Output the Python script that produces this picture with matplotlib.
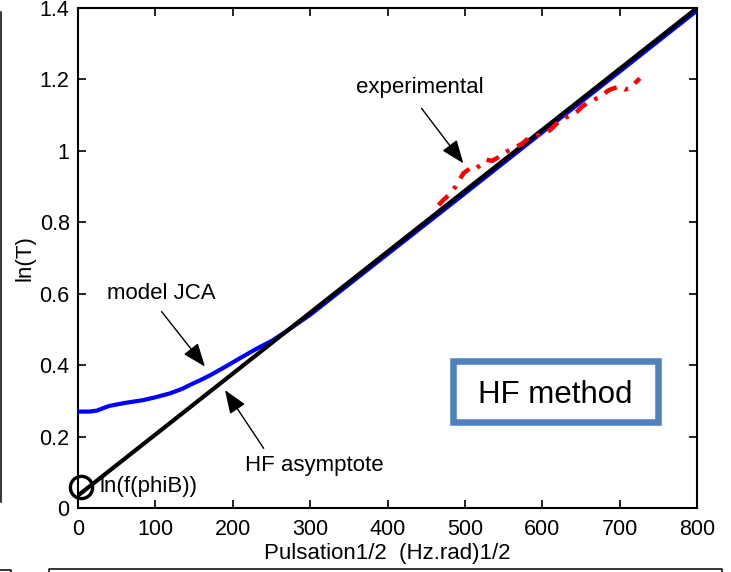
import matplotlib
matplotlib.use("Agg")
import matplotlib.pyplot as plt
from matplotlib.lines import Line2D
from matplotlib.patches import Rectangle

plt.rcParams['font.family'] = ['Liberation Sans', 'DejaVu Sans']

# HF asymptote (straight line)
asym_x = [0, 800]
asym_y = [0.035, 1.400]

# model JCA
jca_x = [0, 15, 25, 33, 41, 60, 84, 100, 119, 135, 149, 160, 171, 190, 209, 230, 252, 270,
         300, 400, 500, 600, 700, 800]
jca_y = [0.270, 0.270, 0.273, 0.280, 0.286, 0.294, 0.302, 0.310, 0.321, 0.334, 0.349,
         0.360, 0.372, 0.395, 0.419, 0.445, 0.470, 0.496, 0.541, 0.711, 0.881, 1.052,
         1.222, 1.393]

# experimental
exp_x = [466, 472, 479, 488, 498, 503, 509, 515, 520, 528, 535, 541, 548, 554, 560, 567,
         574, 582, 590, 596, 602, 610, 619, 626, 632, 639, 645, 652, 658, 665, 671, 675,
         680, 686, 692, 697, 701, 707, 714, 720, 726]
exp_y = [0.848, 0.862, 0.876, 0.900, 0.937, 0.945, 0.956, 0.952, 0.960, 0.975, 0.972,
         0.979, 0.990, 0.998, 1.005, 1.012, 1.020, 1.035, 1.040, 1.045, 1.049, 1.058,
         1.077, 1.090, 1.095, 1.100, 1.110, 1.125, 1.133, 1.140, 1.148, 1.152, 1.160,
         1.170, 1.175, 1.178, 1.180, 1.172, 1.175, 1.190, 1.203]

phiB_x = [3.5]
phiB_y = [0.058]

xticks = [0, 100, 200, 300, 400, 500, 600, 700, 800]
yticks = [0, 0.2, 0.4, 0.6, 0.8, 1.0, 1.2, 1.4]
ytick_labels = ['0', '0.2', '0.4', '0.6', '0.8', '1', '1.2', '1.4']

W, H = 731, 572
fig = plt.figure(figsize=(W / 100, H / 100), dpi=100)
ax = fig.add_axes([78 / W, (H - 508) / H, 619 / W, 500 / H])

ax.plot(jca_x, jca_y, color='#0000ff', lw=3.0, solid_capstyle='butt', zorder=3)
ax.plot(asym_x, asym_y, color='black', lw=3.0, zorder=4)
ax.plot(exp_x, exp_y, color='#ff0000', lw=3.2, linestyle=(0, (3, 2, 0.8, 2)), zorder=5)
ax.plot(phiB_x, phiB_y, marker='o', ms=16, mfc='none', mec='black', mew=2.4,
        linestyle='none', zorder=6, clip_on=False)

ax.set_xlim(0, 800)
ax.set_ylim(0, 1.4)
ax.set_xticks(xticks)
ax.set_yticks(yticks)
ax.set_yticklabels(ytick_labels)
ax.tick_params(direction='in', length=6, width=1.2, labelsize=15.5,
               top=True, right=True, pad=6)
ax.tick_params(axis='x', pad=8)
for s in ax.spines.values():
    s.set_linewidth(1.5)

ax.set_xlabel('Pulsation1/2  (Hz.rad)1/2', fontsize=16, labelpad=2)
ax.set_ylabel('ln(T)', fontsize=16, labelpad=3)

aprops = dict(arrowstyle='-|>,head_length=0.9,head_width=0.35', color='black',
              lw=1.0, mutation_scale=16, shrinkA=0, shrinkB=0)
ax.annotate('', xy=(498, 0.965), xytext=(444, 1.119), arrowprops=aprops)
ax.text(442, 1.176, 'experimental', fontsize=16, ha='center', va='center')
ax.annotate('', xy=(164, 0.396), xytext=(108, 0.55), arrowprops=aprops)
ax.text(108, 0.601, 'model JCA', fontsize=16, ha='center', va='center')
ax.annotate('', xy=(190, 0.33), xytext=(240, 0.167), arrowprops=aprops)
ax.text(305, 0.118, 'HF asymptote', fontsize=16, ha='center', va='center')
ax.text(28, 0.059, 'ln(f(phiB))', fontsize=16, ha='left', va='center')

ax.add_patch(Rectangle((0.6058, 0.173), 0.937 - 0.6058, 0.295 - 0.173,
                       transform=ax.transAxes, facecolor='white',
                       edgecolor='#4F81BD', lw=4.7, zorder=7))
ax.text(0.7714, 0.21, 'HF method', transform=ax.transAxes, fontsize=22.5,
        ha='center', va='baseline', zorder=8)

# cropping remnants at the figure edges
def fline(xs, ys):
    fig.add_artist(Line2D([x / W for x in xs], [1 - y / H for y in ys],
                          transform=fig.transFigure, color='black', lw=1.1))

fline([1, 1], [12, 502])
fline([0, 11, 11], [570, 570, 572])
fline([49, 49, 722, 722], [572, 569, 569, 572])

fig.savefig('out.png', dpi=100)
